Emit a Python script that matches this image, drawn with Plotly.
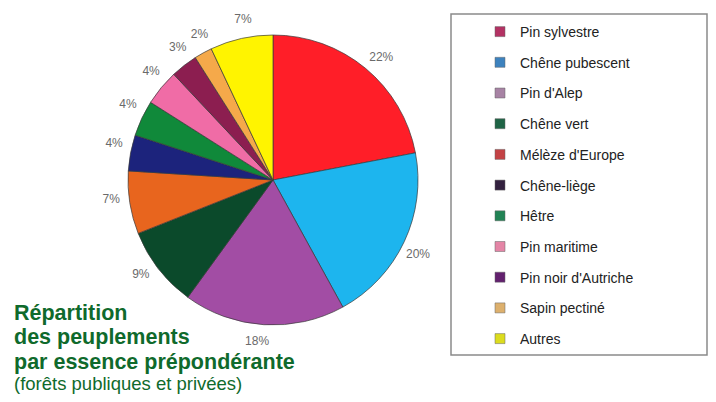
import numpy as np
import plotly.graph_objects as go

labels = ["Pin sylvestre", "Chêne pubescent", "Pin d'Alep", "Chêne vert", "Mélèze d'Europe",
          "Chêne-liège", "Hêtre", "Pin maritime", "Pin noir d'Autriche", "Sapin pectiné", "Autres"]
values = [22, 20, 18, 9, 7, 4, 4, 4, 3, 2, 7]
slice_colors = ["#FF1E28", "#1DB5EE", "#A24DA4", "#0B4A2B", "#E8651E", "#1C237C",
                "#10893A", "#F06CA6", "#8C1E50", "#F5A94A", "#FFF400"]
legend_colors = ["#B33263", "#3D82BE", "#A783A4", "#1F6446", "#C34245", "#33213F",
                 "#218355", "#E485A6", "#63206E", "#DDB06D", "#DCDC1E"]

W, H = 716, 402
CX, CY, R = 273, 180, 145      # pie centre and radius in pixels
S = 180                        # half-size of the polar frame that carries the labels
LABEL_R = 163                  # label distance from the centre (pixels)
LABEL_SHIFT = 2.0              # small clockwise offset of the labels (degrees), as in the original
fig = go.Figure()

fig.add_trace(go.Pie(
    labels=labels, values=values, sort=False, direction="clockwise", rotation=0,
    marker=dict(colors=slice_colors, line=dict(color="#3a3a3a", width=0.7)),
    textinfo="none", showlegend=False, hoverinfo="label+percent",
    domain=dict(x=[(CX - R) / W, (CX + R) / W], y=[(H - CY - R) / H, (H - CY + R) / H]),
))

# percentage labels on the mid-angle of each slice, through a polar axis aligned with the pie
vals = np.array(values, dtype=float)
mid_deg = (np.cumsum(vals) - vals / 2) / vals.sum() * 360.0 + LABEL_SHIFT
fig.add_trace(go.Scatterpolar(
    r=[LABEL_R] * len(values), theta=mid_deg, mode="text",
    text=[f"{v}%" for v in values],
    textfont=dict(family="Liberation Sans, Arial", size=12, color="#6a6a6a"),
    showlegend=False, hoverinfo="skip",
))

for i, (lab, col) in enumerate(zip(labels, legend_colors)):
    fig.add_trace(go.Scatter(
        x=[None], y=[None], mode="markers", name=lab, legendgroup=f"g{i}",
        marker=dict(symbol="square", size=10, color=col, line=dict(color="#666", width=0.5)),
    ))

fig.add_shape(type="rect", xref="paper", yref="paper",
              x0=451 / W, x1=707 / W, y0=1 - 355 / H, y1=1 - 14 / H,
              line=dict(color="#8a8a8a", width=1.5), fillcolor="rgba(0,0,0,0)")

green = "#0F6A2C"
title_lines = ["Répartition", "des peuplements", "par essence prépondérante"]
title_y = [312.5, 337, 361.5]
for t, yy in zip(title_lines, title_y):
    fig.add_annotation(text=f"<b>{t}</b>", xref="paper", yref="paper", x=12 / W, y=1 - yy / H,
                       xanchor="left", yanchor="middle", showarrow=False,
                       font=dict(family="Liberation Sans, Arial", size=21.5, color=green))
fig.add_annotation(text="(forêts publiques et privées)", xref="paper", yref="paper",
                   x=12 / W, y=1 - 383 / H, xanchor="left", yanchor="middle", showarrow=False,
                   font=dict(family="Liberation Sans, Arial", size=18.5, color=green))

fig.update_layout(
    width=W, height=H, margin=dict(l=0, r=0, t=0, b=0),
    paper_bgcolor="white", plot_bgcolor="white",
    xaxis=dict(visible=False), yaxis=dict(visible=False),
    polar=dict(
        domain=dict(x=[(CX - S) / W, (CX + S) / W], y=[(H - CY - S) / H, (H - CY + S) / H]),
        bgcolor="rgba(0,0,0,0)",
        radialaxis=dict(range=[0, S], visible=False, showgrid=False),
        angularaxis=dict(rotation=90, direction="clockwise", visible=False, showgrid=False),
    ),
    legend=dict(x=480 / W, y=1 - 16 / H, xanchor="left", yanchor="top",
                font=dict(family="Liberation Sans, Arial", size=14, color="#222222"),
                tracegroupgap=9.5, bgcolor="rgba(0,0,0,0)", borderwidth=0,
                itemclick=False, itemdoubleclick=False),
)

fig.write_html("out.html", config={"displayModeBar": False},
               post_script="document.body.style.margin='0';")
